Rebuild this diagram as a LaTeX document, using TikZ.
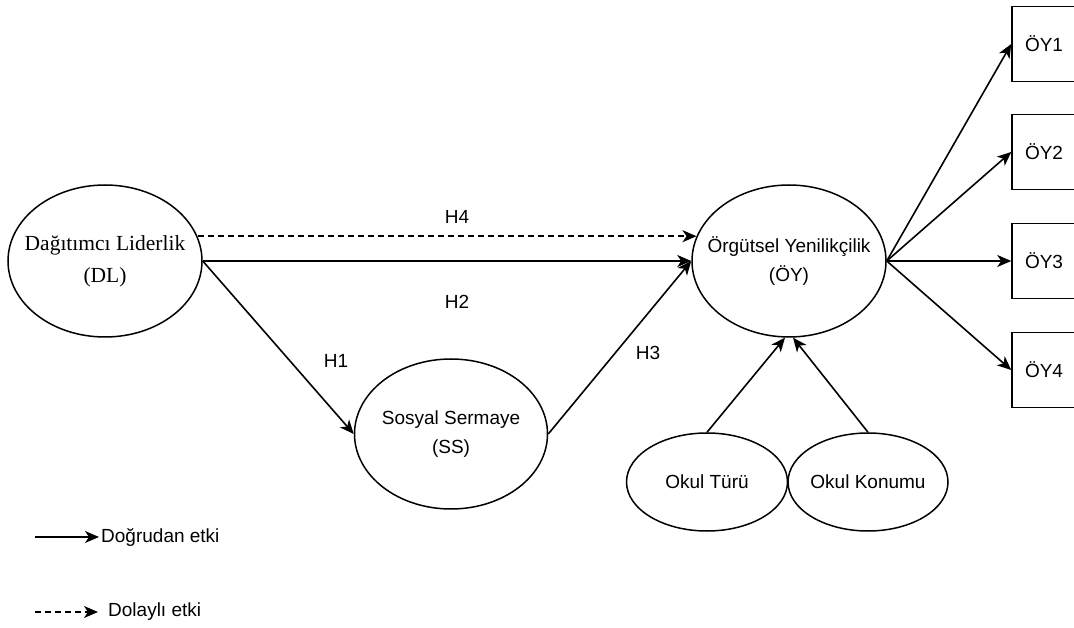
\documentclass[tikz,border=0pt]{standalone}
\usepackage{fontspec}
\setmainfont{Liberation Sans}
\newfontfamily\timesfont{Liberation Serif}
\usetikzlibrary{arrows.meta, shapes.geometric}

\begin{document}
\begin{tikzpicture}[x=1pt, y=1pt,
  latent/.style={draw, ellipse, line width=1.5pt, inner xsep=-30pt, inner ysep=0pt, align=center, font=\fontsize{19}{29}\selectfont},
  item/.style={draw, rectangle, line width=1.5pt, minimum width=64pt, minimum height=75pt, font=\fontsize{19}{23}\selectfont},
  effect/.style={line width=1.6pt, -{Stealth[length=14pt, width=12pt, inset=4pt]}},
  hyp/.style={font=\fontsize{19}{23}\selectfont}]
\useasboundingbox (0, 0) rectangle (1074, 627);
\clip (0, 0) rectangle (1074, 627);
\fill[white] (0, 0) rectangle (1074, 627);

\node[latent, minimum width=194pt, minimum height=152pt, font=\timesfont\fontsize{21.5}{32}\selectfont] (DL) at (105, 366) {Dağıtımcı Liderlik\\(DL)};
\node[latent, minimum width=194pt, minimum height=152pt] (OY) at (789, 366) {Örgütsel Yenilikçilik\\(ÖY)};
\node[latent, minimum width=193pt, minimum height=150pt] (SS) at (451, 193) {Sosyal Sermaye\\(SS)};
\node[latent, minimum width=161pt, minimum height=98pt] (OT) at (707, 145) {Okul Türü};
\node[latent, minimum width=160pt, minimum height=98pt] (OK) at (868, 145) {Okul Konumu};

\foreach \i/\y in {1/583, 2/475, 3/366, 4/257} {
  \node[item] (OY\i) at (1044, \y) {ÖY\i};
  \draw[effect] (OY.east) -- (OY\i.west);
}

\draw[effect, dash pattern=on 6pt off 4pt] (DL.15) -- (OY.165);
\draw[effect] (DL.east) -- (OY.west);
\draw[effect] (DL.east) -- (SS.west);
\draw[effect] (SS.east) -- (OY.west);
\draw[effect] (OT.north) -- (OY.267);
\draw[effect] (OK.north) -- (OY.273);

\node[hyp] (h4) at (457, 410) {H4};
\node[hyp] (h2) at (457, 325) {H2};
\node[hyp] (h1) at (336, 266) {H1};
\node[hyp] (h3) at (648, 274) {H3};

% legend
\coordinate (ds) at (35, 90);
\node[hyp, anchor=west, inner sep=2pt] (direct) at (99, 90) {Doğrudan etki};
\draw[effect] (ds) -- (direct.west);
\coordinate (is) at (35, 15);
\node[hyp, anchor=west, inner sep=2pt] (indirect) at (106, 15) {Dolaylı etki};
\draw[effect, dash pattern=on 6pt off 4pt, shorten >=8pt] (is) -- (indirect.west);
\end{tikzpicture}
\end{document}
